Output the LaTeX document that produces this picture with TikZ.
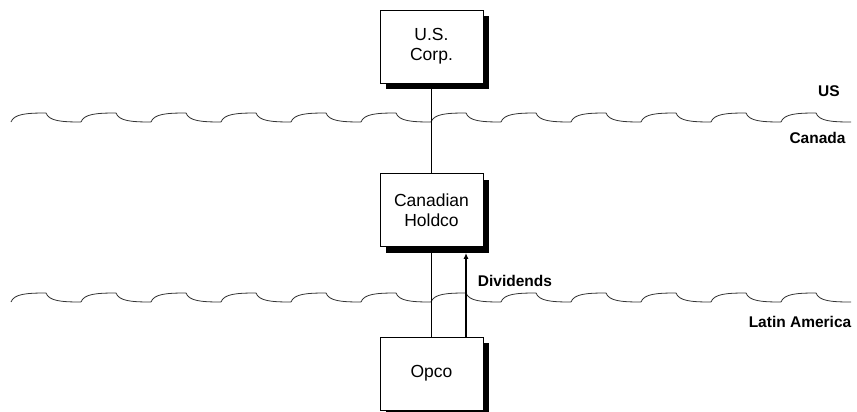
\documentclass[tikz,border=0pt]{standalone}
\usepackage{fontspec}
\setmainfont{Liberation Sans}
\usetikzlibrary{shadows,arrows.meta}
\begin{document}
\begin{tikzpicture}[x=1pt,y=-1pt,
  entity/.style={draw=black,line width=0.9pt,fill=white,minimum width=103pt,minimum height=73pt,inner sep=0pt,
    align=center,font=\fontsize{17.5}{20}\selectfont,
    drop shadow={shadow xshift=6pt,shadow yshift=-6pt,fill=black,opacity=1}},
  region/.style={font=\fontsize{15.5}{18}\selectfont\bfseries,inner sep=0pt},
  conn/.style={draw=black,line width=0.8pt},
  wave/.style={draw=black!80,line width=0.8pt},
  flow/.style={draw=black,line width=2pt,-{Latex[length=6pt,width=5pt]}}]
\useasboundingbox (0,0) rectangle (857,412);
% borders
\foreach \yb/\yt in {122/113, 302/293}{
  \foreach \k in {0,...,11}{
    \pgfmathsetmacro{\xo}{11+70*\k}
    \draw[wave] (\xo,\yb) .. controls (\xo+3,\yt+1) and (\xo+15,\yt) .. (\xo+35,\yt)
                          .. controls (\xo+38,\yb-1) and (\xo+50,\yb) .. (\xo+70,\yb);
  }
}
% entities
\node[entity] (us) at (431.5,46.5) {U.S.\\Corp.};
\node[entity] (can) at (431.5,210) {Canadian\\Holdco};
\node[entity] (opco) at (431.5,373.5) {Opco};
\draw[conn] (us.south) -- (can.north);
\draw[conn] (can.south) -- (opco.north);
\coordinate (divx) at (466,0);
\draw[flow] (opco.north -| divx) -- ([yshift=-6pt]can.south -| divx);
% labels
\node[region] (lbldiv) at (515,281) {Dividends};
\node[region] (lblus) at (829,91.5) {US};
\node[region] (lblca) at (817.5,138) {Canada};
\node[region] (lbllat) at (800,322) {Latin America};
\end{tikzpicture}
\end{document}
